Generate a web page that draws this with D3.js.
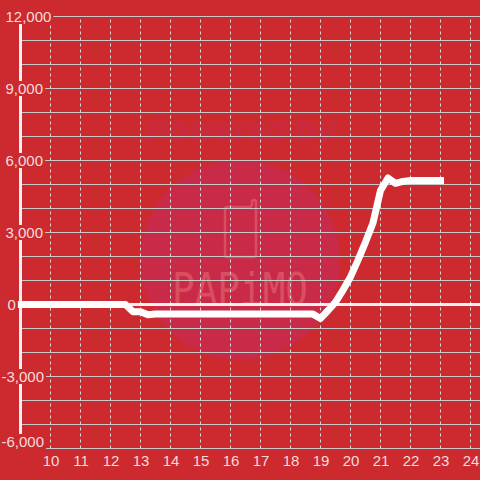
<!DOCTYPE html>
<html><head><meta charset="utf-8">
<script src="https://cdnjs.cloudflare.com/ajax/libs/d3/7.8.5/d3.min.js"></script>
<style>html,body{margin:0;padding:0;background:#cc2a2f}svg{display:block}text{font-family:"Liberation Sans",Arial,sans-serif}</style>
</head><body><svg id="c" width="480" height="480"></svg>
<script>
const hours=[9,10,11,12,12.5,12.75,13,13.25,13.5,14,15,16,17,18,18.5,18.75,19,19.25,19.5,19.75,20,20.25,20.5,20.75,21,21.25,21.5,21.75,22,22.5,23];
const values=[0,0,0,0,0,-300,-300,-430,-400,-400,-400,-400,-400,-400,-400,-400,-580,-250,100,600,1150,1850,2600,3400,4750,5270,5050,5130,5170,5170,5170];
const xTicks=[10,11,12,13,14,15,16,17,18,19,20,21,22,23,24];
const yGrid=[-6000,-5000,-4000,-3000,-2000,-1000,0,1000,2000,3000,4000,5000,6000,7000,8000,9000,10000,11000,12000];
const yLabels=[-6000,-3000,0,3000,6000,9000,12000];
const BG="#cc2a2f", TXT="#f4dcdc";
const x=d3.scaleLinear().domain([10,24]).range([50.5,470.5]);
const y=d3.scaleLinear().domain([-6000,12000]).range([448.5,16.5]);
const svg=d3.select("#c");
svg.append("rect").attr("width",480).attr("height",480).attr("fill",BG);
// watermark
const wm=svg.append("g");
wm.append("circle").attr("cx",240).attr("cy",260).attr("r",100).attr("fill","#c92a47");
wm.append("text").attr("x",241).attr("y",141).attr("text-anchor","middle").attr("font-size",32).attr("font-weight","bold").attr("font-style","italic")
  .attr("textLength",188).attr("fill","#ca2a3f").text("Powered by");
wm.append("path").attr("d","M227 207H249Q252 207 252 204V202Q252 200 254 200Q256 200 256 202V254Q256 257 253 257H227Q225 257 225 254V209Q225 207 227 207Z")
  .attr("fill","none").attr("stroke","#d94f60").attr("stroke-width",2.5);
wm.append("text").attr("x",240).attr("y",305).attr("text-anchor","middle").attr("font-size",45).attr("textLength",136).attr("lengthAdjust","spacingAndGlyphs")
  .attr("style","font-family:'DejaVu Sans Mono'").attr("fill","#d94f60").text("PAPiMO");
// grid
const gy=svg.append("g").call(d3.axisLeft(y).offset(0).tickValues(yGrid).tickSize(-459.5).tickFormat(""));
gy.attr("transform","translate(20.5,0)");
gy.select(".domain").remove();
gy.selectAll("line").attr("stroke","#c9c9c9").attr("stroke-width",1);
const gx=svg.append("g").attr("transform","translate(0,448.5)").call(d3.axisBottom(x).offset(0).tickValues(xTicks).tickSize(-432).tickFormat(""));
gx.select(".domain").remove();
gx.selectAll("line").attr("stroke","#d8d8d8").attr("stroke-width",1).attr("stroke-dasharray","3,3");
// y axis rule and zero line
svg.append("line").attr("x1",20.5).attr("x2",20.5).attr("y1",y(12000)).attr("y2",y(-6000)).attr("stroke","#f2f0f0").attr("stroke-width",3);
svg.append("line").attr("x1",20.5).attr("x2",480).attr("y1",y(0)).attr("y2",y(0)).attr("stroke","#f4f0f0").attr("stroke-width",3);
// data line
svg.append("path").datum(hours.map((h,i)=>[h,values[i]]))
  .attr("d",d3.line().x(d=>x(d[0])).y(d=>y(d[1])))
  .attr("fill","none").attr("stroke","#ffffff").attr("stroke-width",7).attr("stroke-linecap","square").attr("stroke-linejoin","round");
// y labels with masking backgrounds
const fmt=d3.format(",");
const yl=svg.append("g");
yLabels.forEach(v=>{
  const cy=v===-6000?441.5:y(v);
  const lx=v<0?1.5:(v===0?7.5:5.5);
  const t=yl.append("text").attr("x",lx).attr("y",cy+5.5).attr("font-size",15).attr("fill",TXT).text(fmt(v).replace("\u2212","-"));
  const w=t.node().getComputedTextLength();
  yl.insert("rect","text").attr("x",lx-2).attr("y",cy-7.5).attr("width",w+4).attr("height",15).attr("fill",BG);
});
// x labels
svg.append("g").selectAll("text").data(xTicks).join("text")
  .attr("x",d=>x(d)+0.5).attr("y",465.5).attr("text-anchor","middle").attr("font-size",15).attr("fill",TXT).text(d=>d);
</script></body></html>
